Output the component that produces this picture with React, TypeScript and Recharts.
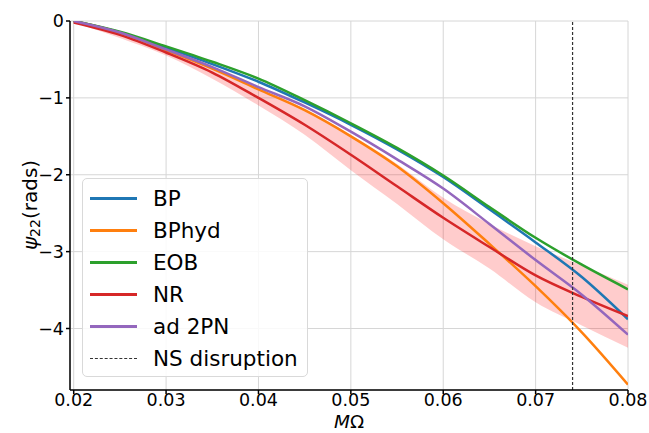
import { ComposedChart, Line, Area, XAxis, YAxis, CartesianGrid, ReferenceLine, Legend } from 'recharts';

const mOmega = [0.02, 0.025, 0.03, 0.035, 0.04, 0.045, 0.05, 0.055, 0.06, 0.065, 0.07, 0.075, 0.08];
const bp = [0, -0.15, -0.35, -0.56, -0.79, -1.06, -1.35, -1.67, -2.03, -2.45, -2.88, -3.33, -3.88];
const bpHyd = [0, -0.15, -0.38, -0.62, -0.89, -1.16, -1.5, -1.89, -2.37, -2.9, -3.45, -4.05, -4.73];
const eob = [0, -0.14, -0.33, -0.53, -0.75, -1.03, -1.33, -1.65, -2.01, -2.42, -2.82, -3.17, -3.49];
const nr = [-0.02, -0.18, -0.41, -0.67, -1.0, -1.35, -1.74, -2.15, -2.56, -2.94, -3.31, -3.59, -3.84];
const ad2pn = [0, -0.15, -0.37, -0.6, -0.86, -1.11, -1.44, -1.8, -2.18, -2.64, -3.11, -3.56, -4.08];
const nrLow = [-0.02, -0.22, -0.45, -0.75, -1.1, -1.48, -1.94, -2.38, -2.84, -3.22, -3.66, -3.96, -4.25];
const nrHigh = [0, -0.14, -0.36, -0.6, -0.87, -1.14, -1.48, -1.86, -2.3, -2.64, -2.93, -3.18, -3.43];

const xTicks = [0.02, 0.03, 0.04, 0.05, 0.06, 0.07, 0.08];
const yTicks = [-4, -3, -2, -1, 0];
const nsDisruption = 0.074;

const series = [
  { key: 'bp', name: 'BP', color: '#1f77b4' },
  { key: 'bpHyd', name: 'BPhyd', color: '#ff7f0e' },
  { key: 'eob', name: 'EOB', color: '#2ca02c' },
  { key: 'nr', name: 'NR', color: '#d62728' },
  { key: 'ad2pn', name: 'ad 2PN', color: '#9467bd' },
];

const data = mOmega.map((x, i) => ({
  x,
  bp: bp[i],
  bpHyd: bpHyd[i],
  eob: eob[i],
  nr: nr[i],
  ad2pn: ad2pn[i],
  band: [nrLow[i], nrHigh[i]],
}));

const font = 'DejaVu Sans, sans-serif';

const YLabel = () => (
  <text
    x={30}
    y={205}
    transform="rotate(-90 30 205)"
    textAnchor="middle"
    dominantBaseline="central"
    fontSize={20}
    fontFamily={font}
    fill="#000"
  >
    <tspan fontStyle="italic">ψ</tspan>
    <tspan fontSize={14} dy={5}>22</tspan>
    <tspan dy={-5}>(rads)</tspan>
  </text>
);

const XLabel = () => (
  <text x={349} y={421} textAnchor="middle" dominantBaseline="central" fontSize={18.5} fontFamily={font} fill="#000">
    <tspan fontStyle="italic">M</tspan>
    <tspan>Ω</tspan>
  </text>
);

const LegendBox = () => (
  <div
    style={{
      width: 226,
      height: 199,
      border: '1px solid #d9d9d9',
      borderRadius: 5,
      background: 'rgba(255,255,255,0.85)',
      fontFamily: font,
      fontSize: 21.5,
      color: '#000',
      boxSizing: 'border-box',
      paddingTop: 3,
    }}
  >
    {series.map((s) => (
      <div key={s.key} style={{ display: 'flex', alignItems: 'center', height: 32 }}>
        <div style={{ width: 47, height: 3, background: s.color, marginLeft: 7, marginRight: 16 }} />
        <span>{s.name}</span>
      </div>
    ))}
    <div style={{ display: 'flex', alignItems: 'center', height: 32 }}>
      <div style={{ width: 47, borderTop: '1px dashed #333', marginLeft: 7, marginRight: 16 }} />
      <span>NS disruption</span>
    </div>
  </div>
);

export default function App() {
  return (
    <div style={{ position: 'absolute', left: 0, top: 0, background: '#fff' }}>
      <ComposedChart width={649} height={433} data={data} margin={{ top: 21, right: 21, bottom: 0, left: 10 }}>
        <CartesianGrid stroke="#d6d6d6" strokeWidth={1} />
        <XAxis
          dataKey="x"
          type="number"
          domain={[0.0196, 0.08]}
          ticks={xTicks}
          allowDataOverflow
          height={43}
          tickFormatter={(v: number) => v.toFixed(2)}
          tick={{ fill: '#000', fontSize: 17.5, fontFamily: font }}
          tickSize={4}
          tickMargin={0}
          stroke="#000"
          strokeWidth={1.5}
          label={<XLabel />}
        />
        <XAxis xAxisId="top" orientation="top" type="number" domain={[0.0196, 0.08]} tick={false} tickLine={false} stroke="#000" strokeWidth={1.5} height={0} />
        <YAxis
          type="number"
          domain={[-4.8, 0]}
          ticks={yTicks}
          allowDataOverflow
          width={60}
          tickFormatter={(v: number) => (v < 0 ? '\u2212' + Math.abs(v) : String(v))}
          tick={{ fill: '#000', fontSize: 17.5, fontFamily: font }}
          tickSize={4}
          stroke="#000"
          strokeWidth={1.5}
          label={<YLabel />}
        />
        <YAxis yAxisId="right" orientation="right" type="number" domain={[-4.8, 0]} tick={false} tickLine={false} stroke="#000" strokeWidth={1.5} width={0} />
        <Area
          dataKey="band"
          type="monotone"
          stroke="none"
          fill="#ff0000"
          fillOpacity={0.2}
          isAnimationActive={false}
          legendType="none"
        />
        {series.map((s) => (
          <Line
            key={s.key}
            dataKey={s.key}
            name={s.name}
            type="monotone"
            stroke={s.color}
            strokeWidth={2.5}
            dot={false}
            isAnimationActive={false}
          />
        ))}
        <ReferenceLine x={nsDisruption} stroke="#333" strokeDasharray="3 2" strokeWidth={1.2} />
        <Legend
          layout="horizontal"
          verticalAlign="middle"
          align="center"
          content={<LegendBox />}
          wrapperStyle={{ left: 82, top: 178, width: 226, height: 199 }}
        />
      </ComposedChart>
    </div>
  );
}
